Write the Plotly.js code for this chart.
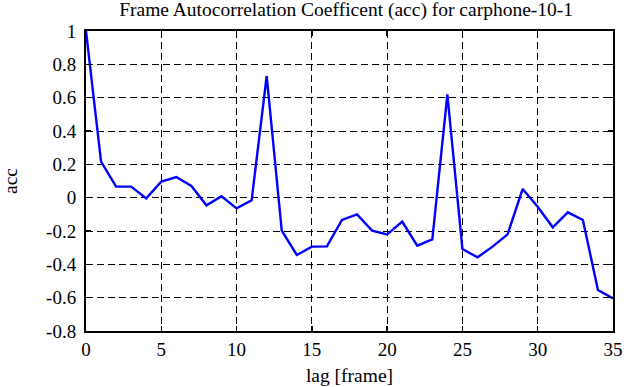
<!DOCTYPE html>
<html><head><meta charset="utf-8">
<script src="https://cdn.plot.ly/plotly-3.0.1.min.js"></script>
<style>body{margin:0;background:#fff}#c{width:641px;height:387px}</style>
</head><body><div id="c"></div>
<script>
const lags = [0,1,2,3,4,5,6,7,8,9,10,11,12,13,14,15,16,17,18,19,20,21,22,23,24,25,26,27,28,29,30,31,32,33,34,35];
const acc = [1.0,0.216,0.066,0.066,-0.004,0.096,0.124,0.07,-0.046,0.008,-0.064,-0.016,0.73,-0.198,-0.344,-0.294,-0.292,-0.134,-0.1,-0.198,-0.22,-0.144,-0.288,-0.25,0.62,-0.308,-0.358,-0.294,-0.22,0.052,-0.054,-0.178,-0.088,-0.134,-0.554,-0.604];
const xTickVals = [0,5,10,15,20,25,30,35];
const xTickText = ["0","5","10","15","20","25","30","35"];
const yTickVals = [1,0.8,0.6,0.4,0.2,0,-0.2,-0.4,-0.6,-0.8];
const yTickText = ["1","0.8","0.6","0.4","0.2","0","-0.2","-0.4","-0.6","-0.8"];

const FAM = "Liberation Serif";
function f(size, fam){ return {family: fam || FAM, size: size, color: "#000"}; }
const axisCommon = {
  showline: true, linecolor: "#000", linewidth: 2, mirror: "ticks",
  ticks: "inside", ticklen: 5, tickcolor: "#000", tickwidth: 1.5,
  showgrid: true, gridcolor: "#000", griddash: "7px,4px", gridwidth: 1,
  zeroline: false, tickmode: "array"
};
const layout = {
  width: 641, height: 387,
  margin: {l: 86, r: 28, t: 31, b: 56},
  paper_bgcolor: "#fff", plot_bgcolor: "#fff",
  font: f(19),
  showlegend: false,
  title: {text: "Frame Autocorrelation Coefficent (acc) for carphone-10-1", font: f(19.5), x: 0.54, xanchor: "center", y: 0.995, yanchor: "top"},
  xaxis: Object.assign({}, axisCommon, {range: [0, 35], tickvals: xTickVals, ticktext: xTickText,
    title: {text: "lag [frame]", font: f(19.5), standoff: 10}}),
  yaxis: Object.assign({}, axisCommon, {range: [-0.8, 1], tickvals: yTickVals, ticktext: yTickText,
    ticklabelstandoff: 4,
    title: {text: "acc", font: f(19.5), standoff: 24}})
};
layout.xaxis.tickfont = f(19, "Times New Roman");
layout.yaxis.tickfont = f(19, "Times New Roman");

Plotly.newPlot("c", [{
  x: lags, y: acc, type: "scatter", mode: "lines",
  line: {color: "#0000ff", width: 2.4}
}], layout, {staticPlot: true});
</script></body></html>
